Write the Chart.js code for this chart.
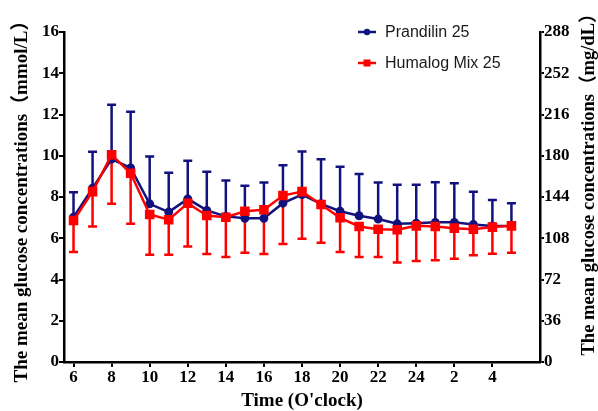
<!DOCTYPE html>
<html lang="en">
<head>
  <meta charset="UTF-8">
  <title>Mean glucose concentrations</title>
  <script src="https://cdn.jsdelivr.net/npm/chart.js"></script>
  <style>
    html, body { margin: 0; padding: 0; background: #ffffff; }
    #wrap { width: 598px; height: 411px; position: relative; }
  </style>
</head>
<body>
  <div id="wrap"><canvas id="chart"></canvas></div>
  <script>
    // hours of the day, one point per hour (6 o'clock to 5 o'clock next day)
    const hours = [6, 7, 8, 9, 10, 11, 12, 13, 14, 15, 16, 17, 18, 19, 20, 21, 22, 23, 24, 1, 2, 3, 4, 5];
    const tickIndex = [0, 2, 4, 6, 8, 10, 12, 14, 16, 18, 20, 22];

    const prandilinMean = [7.02, 8.43, 9.84, 9.41, 7.67, 7.27, 7.91, 7.35, 7.06, 6.97, 6.97, 7.70, 8.12, 7.67, 7.31, 7.09, 6.93, 6.70, 6.73, 6.77, 6.77, 6.67, 6.60, 6.60];
    const prandilinSD   = [1.21, 1.77, 2.63, 2.72, 2.29, 1.91, 1.85, 1.88, 1.74, 1.57, 1.73, 1.84, 2.09, 2.16, 2.16, 2.03, 1.77, 1.89, 1.86, 1.95, 1.90, 1.59, 1.26, 1.10];
    const humalogMean   = [6.86, 8.26, 10.05, 9.15, 7.15, 6.90, 7.70, 7.10, 7.02, 7.31, 7.38, 8.07, 8.26, 7.64, 6.99, 6.57, 6.44, 6.41, 6.60, 6.57, 6.49, 6.44, 6.54, 6.60];
    const humalogSD     = [1.53, 1.69, 2.38, 2.45, 1.95, 1.70, 2.10, 1.86, 1.93, 2.01, 2.14, 2.35, 2.28, 1.86, 1.66, 1.48, 1.35, 1.58, 1.70, 1.64, 1.48, 1.27, 1.29, 1.30];

    const leftTitle = 'The mean glucose concentrations\uFF08mmol/L\uFF09';
    const rightTitle = 'The mean glucose concentrations\uFF08mg/dL\uFF09';

    const BLUE = '#12127e';
    const RED = '#ff0000';
    const serif = "'Liberation Serif', 'Times New Roman', 'Noto Sans CJK SC', serif";

    // one-sided error bars: Prandilin upward, Humalog downward
    const errorBars = {
      id: 'errorBars',
      beforeDatasetsDraw(chart) {
        const x = chart.scales.x, y = chart.scales.y;
        const ctx = chart.ctx;
        const sets = [
          { mean: prandilinMean, sd: prandilinSD, dir: 1, color: BLUE },
          { mean: humalogMean, sd: humalogSD, dir: -1, color: RED }
        ];
        ctx.save();
        ctx.lineWidth = 2.5;
        sets.forEach(s => {
          ctx.strokeStyle = s.color;
          s.mean.forEach((m, i) => {
            const px = x.getPixelForValue(i);
            const y0 = y.getPixelForValue(m);
            const y1 = y.getPixelForValue(m + s.dir * s.sd[i]);
            ctx.beginPath();
            ctx.moveTo(px, y0);
            ctx.lineTo(px, y1);
            ctx.moveTo(px - 4.5, y1);
            ctx.lineTo(px + 4.5, y1);
            ctx.stroke();
          });
        });
        ctx.restore();
      }
    };

    // legend inside the plot and right axis title (reads bottom to top)
    const extras = {
      id: 'extras',
      afterDraw(chart) {
        const ctx = chart.ctx;
        ctx.save();
        const items = [
          { text: 'Prandilin 25', color: BLUE, style: 'circle', y: 32 },
          { text: 'Humalog Mix 25', color: RED, style: 'rect', y: 63 }
        ];
        items.forEach(it => {
          ctx.strokeStyle = it.color;
          ctx.fillStyle = it.color;
          ctx.lineWidth = 2.5;
          ctx.beginPath();
          ctx.moveTo(358, it.y);
          ctx.lineTo(376, it.y);
          ctx.stroke();
          if (it.style === 'circle') {
            ctx.beginPath();
            ctx.arc(367, it.y, 3.2, 0, Math.PI * 2);
            ctx.fill();
          } else {
            ctx.fillRect(363.5, it.y - 3.5, 7, 7);
          }
          ctx.fillStyle = '#1a1a1a';
          ctx.font = "16px 'Liberation Sans', Arial, sans-serif";
          ctx.textBaseline = 'middle';
          ctx.textAlign = 'left';
          ctx.fillText(it.text, 385, it.y + 1);
        });

        ctx.translate(589, 180);
        ctx.rotate(-Math.PI / 2);
        ctx.fillStyle = '#000';
        ctx.font = 'bold 18.5px ' + serif;
        ctx.textAlign = 'center';
        ctx.textBaseline = 'middle';
        ctx.fillText(rightTitle, 0, 0);
        ctx.restore();
      }
    };

    const ctx = document.getElementById('chart').getContext('2d');
    new Chart(ctx, {
      type: 'line',
      data: {
        datasets: [
          {
            label: 'Prandilin 25',
            data: prandilinMean.map((v, i) => ({ x: i, y: v })),
            borderColor: BLUE,
            backgroundColor: BLUE,
            borderWidth: 2.5,
            pointStyle: 'circle',
            pointRadius: 3.2,
            tension: 0,
            order: 2
          },
          {
            label: 'Humalog Mix 25',
            data: humalogMean.map((v, i) => ({ x: i, y: v })),
            borderColor: RED,
            backgroundColor: RED,
            borderWidth: 2.5,
            pointStyle: 'rect',
            pointRadius: 5,
            tension: 0,
            order: 1
          }
        ]
      },
      options: {
        responsive: true,
        maintainAspectRatio: false,
        animation: false,
        layout: { padding: { top: 32, left: 0, right: 0, bottom: 0 } },
        plugins: {
          legend: { display: false },
          tooltip: { enabled: false }
        },
        scales: {
          x: {
            type: 'linear',
            min: -0.5,
            max: 24.5,
            afterBuildTicks(scale) {
              scale.ticks = tickIndex.map(v => ({ value: v }));
            },
            afterFit(scale) { scale.height = 49; },
            border: { color: '#000', width: 2.5 },
            grid: { drawOnChartArea: false, tickLength: 5, color: '#000', lineWidth: 2 },
            ticks: {
              color: '#000',
              padding: 0,
              maxRotation: 0,
              autoSkip: false,
              font: { family: serif, size: 17, weight: 'bold' },
              callback: v => hours[v]
            },
            title: {
              display: true,
              text: "Time (O'clock)",
              color: '#000',
              padding: { top: 0, bottom: 0 },
              font: { family: serif, size: 19, weight: 'bold', lineHeight: 1 }
            }
          },
          y: {
            position: 'left',
            min: 0,
            max: 16,
            afterFit(scale) { scale.width = 64; },
            border: { color: '#000', width: 2.5 },
            grid: { drawOnChartArea: false, tickLength: 5, color: '#000', lineWidth: 2 },
            ticks: {
              stepSize: 2,
              color: '#000',
              padding: 0,
              font: { family: serif, size: 17, weight: 'bold' }
            },
            title: {
              display: true,
              text: leftTitle,
              color: '#000',
              padding: { top: 13, bottom: 0 },
              font: { family: serif, size: 19, weight: 'bold', lineHeight: 1 }
            }
          },
          y2: {
            position: 'right',
            min: 0,
            max: 288,
            afterFit(scale) { scale.width = 58; },
            border: { color: '#000', width: 2.5 },
            grid: { drawOnChartArea: false, tickLength: 4, color: '#000', lineWidth: 2 },
            ticks: {
              stepSize: 36,
              color: '#000',
              padding: 0,
              font: { family: serif, size: 17, weight: 'bold' }
            }
          }
        }
      },
      plugins: [errorBars, extras]
    });
  </script>
</body>
</html>
